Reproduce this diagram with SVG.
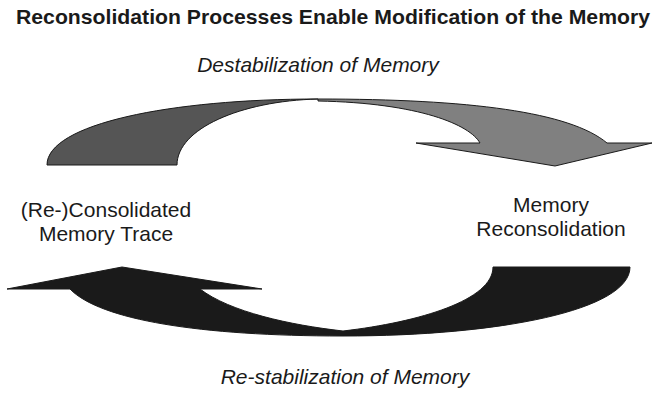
<svg xmlns="http://www.w3.org/2000/svg" width="667" height="396" viewBox="0 0 667 396">
<style>
text{font-family:"Liberation Sans",Arial,sans-serif;fill:#1a1a1a}
.t{font-size:20.5px;font-weight:bold}
.i{font-size:21px;font-style:italic}
.l{font-size:21px}
.arr{stroke:#1a1a1a;stroke-width:1;stroke-linejoin:miter}
</style>
<rect width="667" height="396" fill="#fff"/>
<g id="title"><text class="t" x="333" y="24" text-anchor="middle" textLength="634" lengthAdjust="spacingAndGlyphs">Reconsolidation Processes Enable Modification of the Memory</text></g>
<g id="connectors">
<g id="destabilization">
<path class="arr" fill="#555" d="M47,165 C47,124 170,99 318,99 C240,101 177,129 177,165 Z"/>
<path class="arr" fill="#808080" d="M318,99 C470,99 570,112 607,143 L652,143 L555,166 L416,143 L480,143 C470,125 420,103 318,101 Z"/>
<text class="i" x="318" y="72" text-anchor="middle">Destabilization of Memory</text>
</g>
<g id="restabilization">
<path class="arr" fill="#1a1a1a" d="M630,267 C630,310 500,336 343,336 C200,336 100,320 70,289 L7,289 L122,267 L262,289 L200,289 C230,312 290,325 343,331 C420,322 493,300 493,267 Z"/>
<text class="i" x="345" y="384" text-anchor="middle">Re-stabilization of Memory</text>
</g>
</g>
<g id="consolidated"><text class="l" text-anchor="middle"><tspan x="106" y="217">(Re-)Consolidated</tspan><tspan x="106" y="241">Memory Trace</tspan></text></g>
<g id="reconsolidation"><text class="l" text-anchor="middle"><tspan x="551" y="212">Memory</tspan><tspan x="551" y="236">Reconsolidation</tspan></text></g>
</svg>
